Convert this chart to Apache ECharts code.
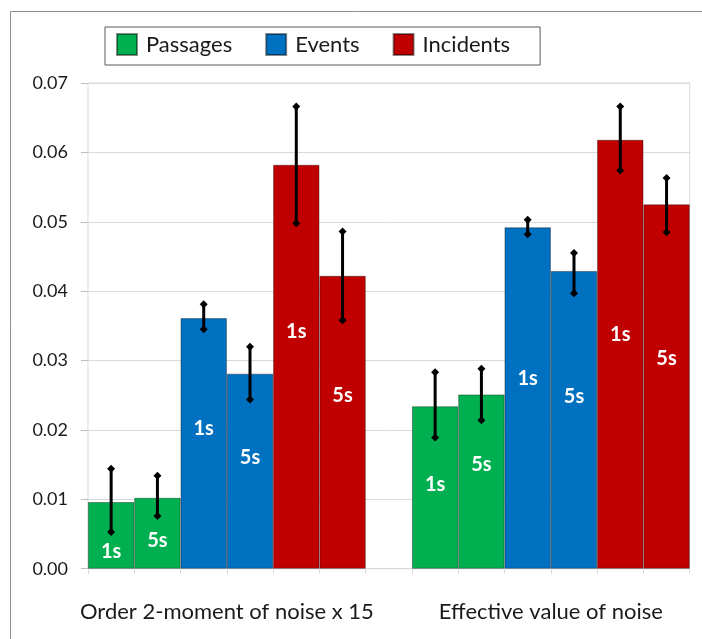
<!DOCTYPE html>
<html><head><meta charset="utf-8">
<script src="https://cdn.jsdelivr.net/npm/echarts@6/dist/echarts.min.js"></script>
<style>html,body{margin:0;padding:0;background:#fff}#c{width:702px;height:639px}</style>
</head><body><div id="c"></div>
<script>
// ---- data ----
const groups = ['Order 2-moment of noise x 15', 'Effective value of noise'];
const windows = ['1s', '5s'];
const seriesNames = ['Passages', 'Events', 'Incidents'];
// order of values: group1-1s, group1-5s, group2-1s, group2-5s
const passages     = [0.0096, 0.0102, 0.0234, 0.0251];
const passagesLow  = [0.0053, 0.0076, 0.0189, 0.0214];
const passagesHigh = [0.0144, 0.0134, 0.0283, 0.0288];
const events       = [0.0361, 0.0281, 0.0492, 0.0429];
const eventsLow    = [0.0345, 0.0244, 0.0482, 0.0397];
const eventsHigh   = [0.0381, 0.0320, 0.0503, 0.0455];
const incidents     = [0.0582, 0.0422, 0.0618, 0.0525];
const incidentsLow  = [0.0498, 0.0358, 0.0574, 0.0485];
const incidentsHigh = [0.0666, 0.0486, 0.0666, 0.0563];
const yMin = 0, yMax = 0.07, yStep = 0.01;

// ---- style / layout ----
const colors = ['#00b050', '#0070c0', '#c00000'];
// vertical position of the "1s"/"5s" text inside each bar (fraction from bar top)
const labelPos = [
  [0.745, 0.598, 0.479, 0.402],
  [0.44, 0.43, 0.443, 0.42],
  [0.412, 0.408, 0.455, 0.423]
];
const FONT = 'Lato';

const values = [passages, events, incidents];
const lows = [passagesLow, eventsLow, incidentsLow];
const highs = [passagesHigh, eventsHigh, incidentsHigh];

const barsPerGroup = seriesNames.length * windows.length;
const perGroup = barsPerGroup + 1;
const nSlots = groups.length * perGroup - 1;
const slotOf = (g, s, w) => g * perGroup + s * windows.length + w;
const cats = [];
for (let i = 0; i < nSlots; i++) cats.push('slot' + i);
const slotLabel = {};
// label sits on the slot left of the group's centre, shifted right by half a slot via padding
groups.forEach((name, g) => { slotLabel['slot' + (g * perGroup + barsPerGroup / 2 - 1)] = name; });

const series = [];
const errData = [];
seriesNames.forEach((name, s) => {
  const data = cats.map(() => '-');
  groups.forEach((gn, g) => {
    windows.forEach((wn, w) => {
      const k = g * windows.length + w;
      data[slotOf(g, s, w)] = {
        value: values[s][k],
        label: { position: ['50%', (labelPos[s][k] * 100) + '%'], formatter: wn }
      };
      errData.push([slotOf(g, s, w), lows[s][k], highs[s][k]]);
    });
  });
  series.push({
    name: name, type: 'bar', data: data,
    barWidth: '100%', barGap: '-100%',
    itemStyle: { color: colors[s], borderColor: 'rgba(0,0,0,0.45)', borderWidth: 0.8 },
    label: { show: true, color: '#fff', fontFamily: FONT, fontWeight: 'bold', fontSize: 20,
             align: 'center', verticalAlign: 'middle' },
    emphasis: { disabled: true }
  });
});
series.push({
  type: 'custom', name: 'err', data: errData, z: 10,
  encode: { x: 0, y: [1, 2] },
  renderItem: function (params, api) {
    const lo = api.coord([api.value(0), api.value(1)]);
    const hi = api.coord([api.value(0), api.value(2)]);
    const cx = lo[0], d = 4;
    const dia = (y) => ({ type: 'polygon', shape: { points: [[cx, y - d], [cx + d, y], [cx, y + d], [cx - d, y]] }, style: { fill: '#000' } });
    return { type: 'group', children: [
      { type: 'line', shape: { x1: cx, y1: lo[1], x2: cx, y2: hi[1] }, style: { stroke: '#000', lineWidth: 3 } },
      dia(lo[1]), dia(hi[1])
    ] };
  }
});

const chart = echarts.init(document.getElementById('c'), null, { renderer: 'canvas' });
chart.setOption({
  animation: false,
  backgroundColor: '#fff',
  graphic: [{ type: 'rect', silent: true, z: -1,
    shape: { x: 10.5, y: 11.5, width: 760, height: 700 },
    style: { fill: 'none', stroke: '#8c8c8c', lineWidth: 1 } }],
  legend: {
    left: 105, top: 27, data: seriesNames, icon: 'rect',
    itemWidth: 20, itemHeight: 21, itemGap: 33,
    borderColor: '#595959', borderWidth: 1, padding: [6, 30, 9, 11],
    textStyle: { fontFamily: FONT, fontSize: 22, color: '#1a1a1a', padding: [0, 0, 0, 4] },
    selectedMode: false
  },
  grid: { left: 88, right: 12.3, top: 83, bottom: 70.3, show: true, borderColor: '#d9d9d9', borderWidth: 1 },
  xAxis: {
    type: 'category', data: cats,
    axisLine: { lineStyle: { color: '#d9d9d9' } },
    axisTick: { show: true, interval: 0, length: 5, lineStyle: { color: '#d9d9d9' } },
    axisLabel: {
      interval: 0, margin: 32, fontFamily: FONT, fontSize: 22, color: '#1a1a1a',
      padding: [0, 0, 0, 46.3],
      formatter: (v) => slotLabel[v] || ''
    }
  },
  yAxis: {
    type: 'value', min: yMin, max: yMax, interval: yStep,
    axisLine: { show: false },
    axisTick: { show: true, length: 7, lineStyle: { color: '#bfbfbf' } },
    axisLabel: { margin: 20, fontFamily: FONT, fontSize: 18, color: '#1a1a1a', formatter: (v) => v.toFixed(2) },
    splitLine: { lineStyle: { color: '#d9d9d9', width: 1 } }
  },
  series: series
});
</script></body></html>
